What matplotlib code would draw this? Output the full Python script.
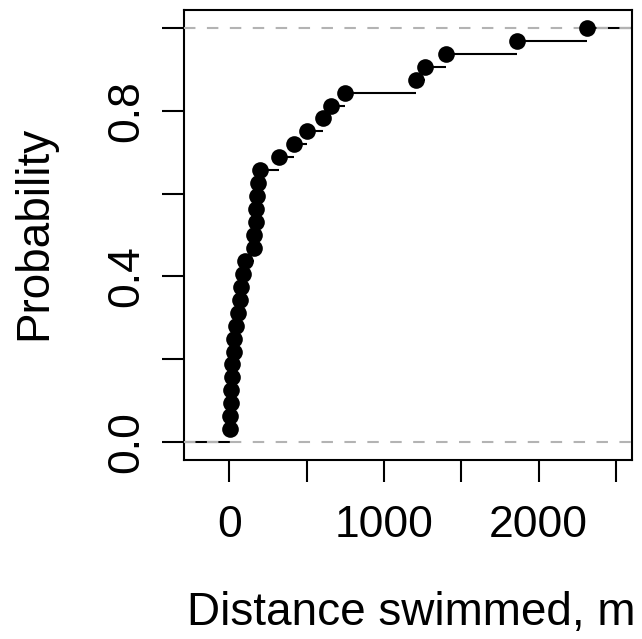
import numpy as np
import matplotlib
matplotlib.use("Agg")
import matplotlib.pyplot as plt

# Data: sorted distances (m)
distance = [2, 3, 12, 14, 15, 20, 30, 32, 46, 54, 72, 76, 91, 100,
            158, 162, 170, 172, 176, 183, 198, 321, 416, 502, 605, 659,
            750, 1209, 1267, 1399, 1858, 2314]
x_ticks = [0, 500, 1000, 1500, 2000, 2500]
x_ticklabels = ["0", "", "1000", "", "2000", ""]
y_ticks = [0.0, 0.2, 0.4, 0.6, 0.8, 1.0]
y_ticklabels = ["0.0", "", "0.4", "", "0.8", ""]
x_label = "Distance swimmed, m"
y_label = "Probability"

plt.rcParams['font.family'] = ['Liberation Sans', 'DejaVu Sans']

W, H = 642, 639
fig = plt.figure(figsize=(W / 100, H / 100), dpi=100)
left, right, top, bottom = 184.3, 631.7, 10, 460
ax = fig.add_axes([left / W, 1 - bottom / H, (right - left) / W, (bottom - top) / H])

x = np.array(distance, dtype=float)
n = len(x)
p = np.arange(1, n + 1) / n

xlim = (-291, 2601)
ylim = (-0.043, 1.043)
ax.set_xlim(*xlim)
ax.set_ylim(*ylim)

# step segments (no verticals), R plot.ecdf style
ax.hlines(p[:-1], x[:-1], x[1:], color='black', lw=1.5, zorder=2)
ax.hlines([0], xlim[0], x[0], color='black', lw=1.5, zorder=2)
ax.hlines([1], x[-1], xlim[1], color='black', lw=1.5, zorder=2)

# reference lines at 0 and 1
for yy in (0, 1):
    ax.axhline(yy, color='#b3b3b3', lw=1.5, dashes=(5.5, 5.5), zorder=3)

ax.plot(x, p, 'o', color='black', ms=12, mew=0, zorder=4)

for s in ax.spines.values():
    s.set_linewidth(1.5)

ax.set_xticks(x_ticks)
ax.set_xticklabels(x_ticklabels)
ax.set_yticks(y_ticks)
ax.set_yticklabels(y_ticklabels)
ax.tick_params(axis='both', direction='out', length=15.5, width=1.5, labelsize=32)
ax.tick_params(axis='x', pad=17)
ax.tick_params(axis='y', pad=11)
for lab in ax.get_yticklabels():
    lab.set_rotation(90)
    lab.set_va('center')

fig.text(411 / W, 1 - 625 / H, x_label, ha='center', va='baseline', fontsize=33)
fig.text(34.5 / W, 1 - 233 / H, y_label, ha='center', va='center', rotation=90, fontsize=33)

fig.savefig("out.png", dpi=100)
